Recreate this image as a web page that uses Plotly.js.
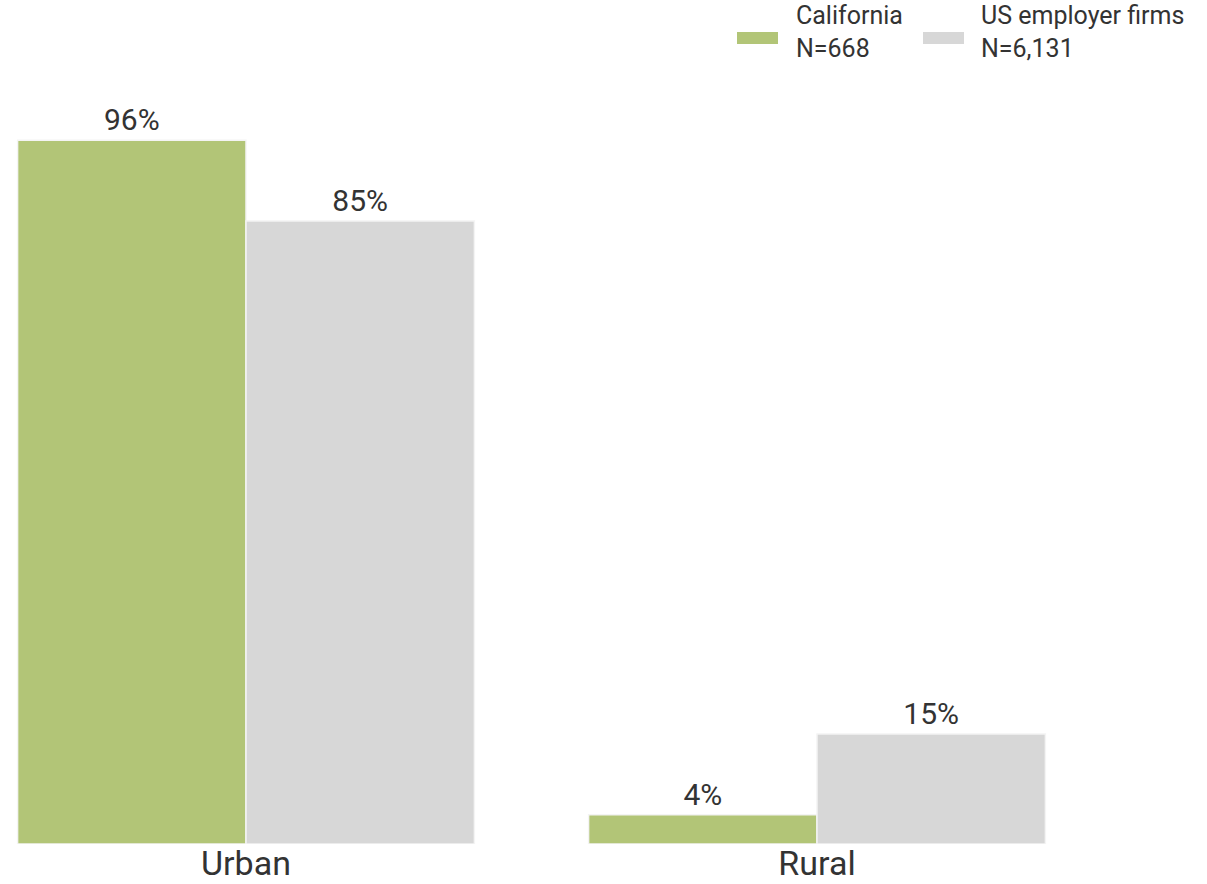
<!DOCTYPE html>
<html>
<head>
<meta charset="utf-8">
<script src="https://cdn.plot.ly/plotly-3.0.1.min.js"></script>
<style>html,body{margin:0;padding:0;background:#fff;}#chart{width:1207px;height:884px;}</style>
</head>
<body>
<div id="chart"></div>
<script>
const categories = ["Urban", "Rural"];
const seriesNames = ["California", "US employer firms"];
const seriesN = ["N=668", "N=6,131"];
const california = [96, 4];
const usFirms = [85, 15];

const W = 1207, H = 884;
const mL = 0, mR = 0, mT = 111, mB = 40;
const plotW = W - mL - mR, plotH = H - mT - mB;
const px = x => (x - mL) / plotW;
const py = y => (H - mB - y) / plotH;

const green = "#b2c577", grey = "#d7d7d7", textCol = "#333333";

const traces = [
  {type: "bar", x: categories, y: california, name: seriesNames[0],
   marker: {color: green, line: {color: "#f4f4f4", width: 1.5}},
   texttemplate: "%{y}%", textposition: "outside", cliponaxis: false,
   textfont: {family: "Roboto", size: 30, color: textCol}, hoverinfo: "skip"},
  {type: "bar", x: categories, y: usFirms, name: seriesNames[1],
   marker: {color: grey, line: {color: "#f4f4f4", width: 1.5}},
   texttemplate: "%{y}%", textposition: "outside", cliponaxis: false,
   textfont: {family: "Roboto", size: 30, color: textCol}, hoverinfo: "skip"}
];

const legendFont = {family: "Roboto", size: 25, color: textCol};
function legendText(x, y, text) {
  return {xref: "paper", yref: "paper", x: px(x), y: py(y), xanchor: "left", yanchor: "middle",
          align: "left", showarrow: false, text: text, font: legendFont};
}

const layout = {
  width: W, height: H,
  margin: {l: mL, r: mR, t: mT, b: mB, pad: 0},
  paper_bgcolor: "#fff", plot_bgcolor: "#fff",
  font: {family: "Roboto", color: textCol},
  barmode: "group", bargap: 0.2, bargroupgap: 0,
  showlegend: false,
  xaxis: {range: [-0.4308, 1.683], showgrid: false, zeroline: false, showline: false,
          ticks: "", ticklabelstandoff: -4,
          tickfont: {family: "Roboto", size: 34, color: textCol}, automargin: false, fixedrange: true},
  yaxis: {range: [0, 100], visible: false, fixedrange: true},
  shapes: [
    {type: "rect", xref: "paper", yref: "paper", x0: px(737), x1: px(778), y0: py(44), y1: py(32),
     fillcolor: green, line: {width: 0}},
    {type: "rect", xref: "paper", yref: "paper", x0: px(923), x1: px(964), y0: py(44), y1: py(32),
     fillcolor: grey, line: {width: 0}}
  ],
  annotations: [
    legendText(794, 32, seriesNames[0] + "<br>" + seriesN[0]),
    legendText(979, 32, seriesNames[1] + "<br>" + seriesN[1])
  ]
};

Plotly.newPlot("chart", traces, layout, {staticPlot: true});
</script>
</body>
</html>
